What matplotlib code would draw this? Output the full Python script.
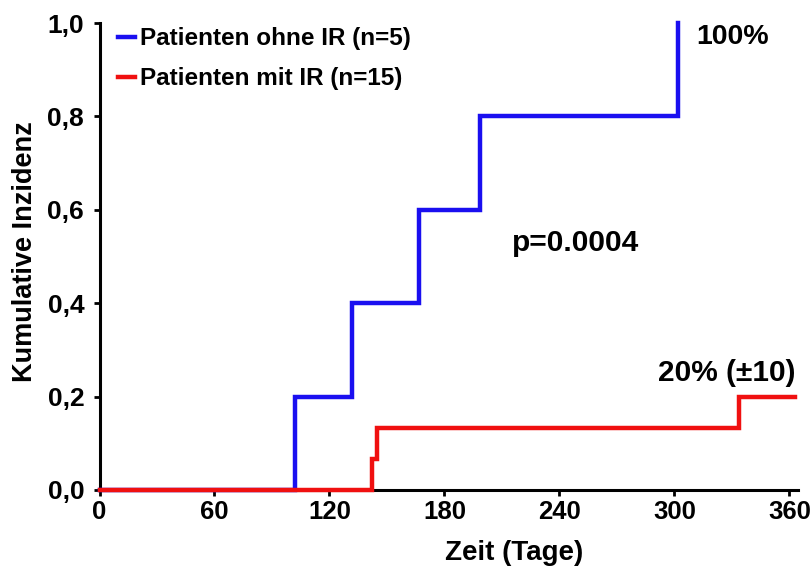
import matplotlib
matplotlib.use("Agg")
import matplotlib.pyplot as plt

# Kumulative Inzidenz (Stufen)
t_ohne = [0, 102, 132, 166.5, 198.5, 302]
y_ohne = [0.0, 0.2, 0.4, 0.6, 0.8, 1.0]
t_mit = [0, 142, 145, 333.5, 363]
y_mit = [0.0, 0.067, 0.133, 0.2, 0.2]

x_ticks = [0, 60, 120, 180, 240, 300, 360]
y_ticks = [0.0, 0.2, 0.4, 0.6, 0.8, 1.0]
y_ticklabels = ["0,0", "0,2", "0,4", "0,6", "0,8", "1,0"]

plt.rcParams['font.family'] = ['Liberation Sans', 'DejaVu Sans']
plt.rcParams['font.weight'] = 'bold'

fig = plt.figure(figsize=(8.11, 5.71), dpi=100)
ax = fig.add_axes([0.1227, 0.1419, 0.9840 - 0.1227, 0.9597 - 0.1419])

ax.plot(t_ohne, y_ohne, drawstyle='steps-post', color='#1a0ff0', lw=3.2,
        clip_on=False, zorder=4, solid_joinstyle='miter',
        label="Patienten ohne IR (n=5)")
ax.plot(t_mit, y_mit, drawstyle='steps-post', color='#f01010', lw=3.2,
        clip_on=False, zorder=5, solid_joinstyle='miter',
        label="Patienten mit IR (n=15)")

ax.set_xlim(0, 364.5)
ax.set_ylim(0, 1.0)
for s in ['top', 'right']:
    ax.spines[s].set_visible(False)
for s in ['left', 'bottom']:
    ax.spines[s].set_linewidth(2.2)

ax.set_xticks(x_ticks)
ax.set_xticklabels([str(v) for v in x_ticks], fontsize=18.5, fontweight='bold')
ax.set_yticks(y_ticks)
ax.set_yticklabels(y_ticklabels, fontsize=19, fontweight='bold')
ax.tick_params(direction='out', length=4, width=2, pad=3)
ax.tick_params(axis='y', pad=7)

ax.set_xlabel("Zeit (Tage)", fontsize=20, fontweight='bold')
ax.xaxis.set_label_coords(0.593, -0.108)
ax.set_ylabel("Kumulative Inzidenz", fontsize=19.5, fontweight='bold')
ax.yaxis.set_label_coords(-0.088, 0.51)

leg = ax.legend(loc='upper left', bbox_to_anchor=(0.0265, 0.991), frameon=False,
                borderpad=0, borderaxespad=0, handlelength=0.7,
                handletextpad=0.22, labelspacing=0.7,
                prop={'size': 17.5, 'weight': 'bold'})
for h in leg.get_lines():
    h.set_linewidth(3.2)

ax.text(311.5, 0.97, "100%", fontsize=20.5, fontweight='bold', va='center',
        ha='left')
ax.text(215, 0.529, "p=0.0004", fontsize=21.5, fontweight='bold', va='center',
        ha='left')
ax.text(363, 0.25, "20% (±10)", fontsize=21.5, fontweight='bold', va='center',
        ha='right')

fig.savefig("out.png", dpi=100)
